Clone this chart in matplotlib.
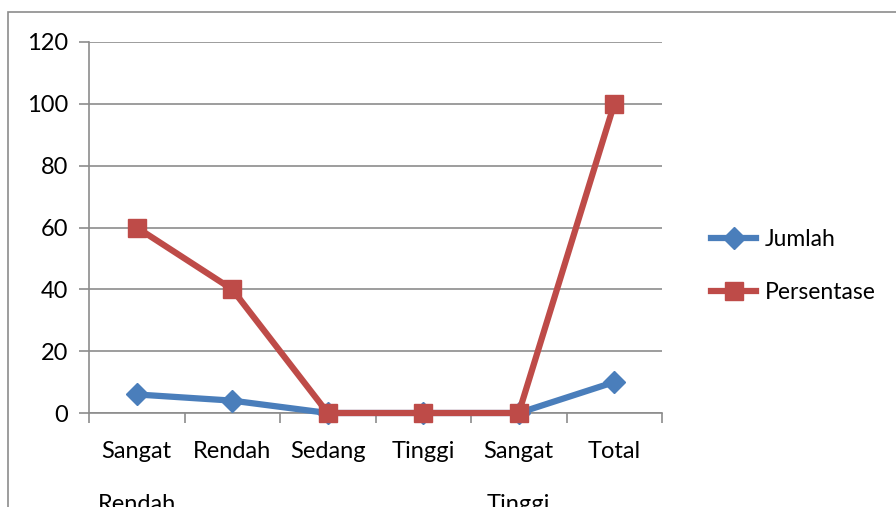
import matplotlib
matplotlib.use("Agg")
import matplotlib.pyplot as plt
from matplotlib.patches import Rectangle
from matplotlib.lines import Line2D

categories = ["Sangat\nRendah", "Rendah", "Sedang", "Tinggi", "Sangat\nTinggi", "Total"]
jumlah = [6, 4, 0, 0, 0, 10]
persentase = [60, 40, 0, 0, 0, 100]
yticks = [0, 20, 40, 60, 80, 100, 120]

W, H = 896, 507
fig = plt.figure(figsize=(W / 100, H / 100), dpi=100)
plt.rcParams['font.family'] = ['Lato', 'DejaVu Sans']

# outer chart border (cropped at right/bottom)
fig.patches.append(Rectangle((8 / W, -0.1), 1.2, (H - 12) / H + 0.1, transform=fig.transFigure,
                             fill=False, edgecolor='#8c8c8c', linewidth=1.2))

left, right, top, bottom = 89, 662, 42, 413
ax = fig.add_axes([left / W, 1 - bottom / H, (right - left) / W, (bottom - top) / H])

x = list(range(len(categories)))
blue = '#4A7EBB'
red = '#BE4B48'
ax.plot(x, jumlah, color=blue, linewidth=4.5, marker='D', markersize=11, markeredgecolor=blue,
        solid_capstyle='round', zorder=3, clip_on=False)
ax.plot(x, persentase, color=red, linewidth=4.5, marker='s', markersize=13, markeredgecolor=red,
        zorder=4, clip_on=False)

fs = 17
ax.set_xlim(-0.5, len(categories) - 0.5)
ax.set_ylim(0, 120)
ax.set_yticks(yticks)
ax.set_yticklabels([str(v) for v in yticks], fontsize=fs)
ax.yaxis.grid(True, color='#8c8c8c', linewidth=1.2)
ax.set_axisbelow(True)
ax.tick_params(axis='y', length=7, color='#8c8c8c', width=1.2, pad=8)

ax.set_xticks([i - 0.5 for i in range(len(categories) + 1)], minor=False)
ax.set_xticklabels([])
ax.tick_params(axis='x', length=7, color='#8c8c8c', width=1.2, direction='out')
ax.set_xticks(x, minor=True)
ax.set_xticklabels(categories, minor=True, fontsize=fs, linespacing=2.9, va='top')
ax.tick_params(axis='x', which='minor', length=0, pad=20)

for s in ['top', 'right']:
    ax.spines[s].set_visible(False)
for s in ['left', 'bottom']:
    ax.spines[s].set_color('#8c8c8c')
    ax.spines[s].set_linewidth(1.2)

handles = [Line2D([], [], color=blue, linewidth=4.5, marker='D', markersize=11),
           Line2D([], [], color=red, linewidth=4.5, marker='s', markersize=13)]
fig.legend(handles, ['Jumlah', 'Persentase'], loc='center left',
           bbox_to_anchor=(690 / W, 1 - 266 / H), frameon=False, fontsize=16.5,
           handlelength=2.0, labelspacing=1.4, handletextpad=0.35)

fig.savefig('out.png', dpi=100)
